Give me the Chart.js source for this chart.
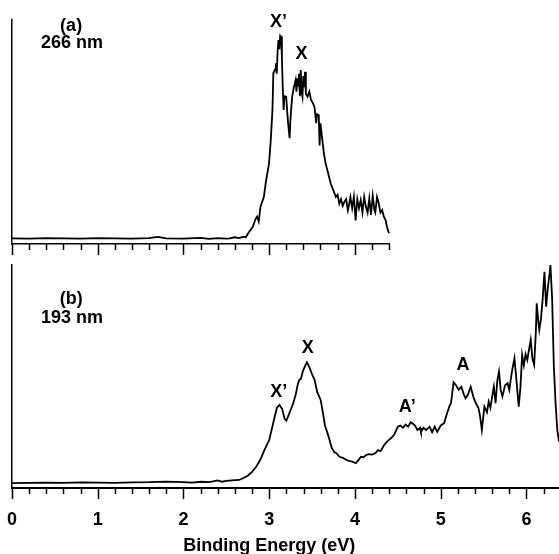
<!DOCTYPE html>
<html lang="en">
<head>
    <meta charset="UTF-8">
    <title>Photoelectron spectra</title>
    <script src="https://cdn.jsdelivr.net/npm/chart.js"></script>
    <style>
        body { margin: 0; background: #fff; }
        #wrap { position: relative; width: 559px; height: 554px; }
        #wrap canvas { position: absolute; left: 0; top: 0; }
    </style>
</head>
<body>
    <div id="wrap">
        <canvas id="chartB" width="559" height="554"></canvas>
        <canvas id="chartA" width="559" height="260"></canvas>
    </div>

    <script>
        // (a) 266 nm spectrum: binding energy (eV) and signal (arb. units)
        const energyA = [0.00, 0.20, 0.40, 0.60, 0.80, 1.00, 1.20, 1.40, 1.60, 1.70, 1.80, 2.00, 2.20, 2.30, 2.40, 2.50,
            2.54, 2.60, 2.65, 2.70, 2.73, 2.76, 2.81, 2.84, 2.86, 2.88, 2.90, 2.94, 2.96, 2.98, 3.00, 3.02, 3.04, 3.05,
            3.07, 3.08, 3.09, 3.10, 3.11, 3.12, 3.13, 3.14, 3.15, 3.16, 3.17, 3.18, 3.20, 3.22, 3.24, 3.25, 3.27, 3.29,
            3.31, 3.32, 3.33, 3.34, 3.35, 3.36, 3.37, 3.38, 3.39, 3.40, 3.41, 3.42, 3.43, 3.45, 3.47, 3.49, 3.51, 3.53,
            3.55, 3.56, 3.58, 3.59, 3.60, 3.62, 3.64, 3.66, 3.68, 3.70, 3.72, 3.75, 3.78, 3.80, 3.82, 3.84, 3.86, 3.88,
            3.90, 3.92, 3.93, 3.95, 3.97, 3.99, 4.01, 4.03, 4.05, 4.07, 4.09, 4.11, 4.13, 4.15, 4.17, 4.19, 4.21, 4.23,
            4.24, 4.26, 4.28, 4.30, 4.32, 4.34, 4.36, 4.38, 4.40];
        const signalA = [2.5, 2.4, 2.6, 2.5, 2.4, 2.6, 2.5, 2.4, 2.6, 3.2, 2.5, 2.4, 2.7, 2.3, 2.6, 2.4,
            2.5, 3.0, 2.6, 3.3, 3.0, 5.0, 7.7, 11, 12.2, 10, 16.7, 21.1, 27, 31.5, 36, 46.4, 60, 76.2,
            78, 80.7, 76, 86, 91, 87, 93, 92.6, 83.6, 70, 59.8, 66, 65.8, 55, 47.2, 56, 65.8, 70,
            73.2, 68, 74, 70.2, 76, 66, 77.7, 68, 65.8, 75, 70, 76.9, 67, 65.8, 68, 64.3, 63, 61.3,
            53.9, 58, 57.6, 44, 53.9, 47, 40.5, 36, 33, 30, 27, 24, 21, 22, 18, 20, 17, 18.9,
            20, 15, 16.7, 21, 16, 21.1, 10.5, 20, 16, 19.6, 14, 21, 16.7, 14, 20.4, 13, 21.5, 15,
            14, 21, 18.2, 14, 15.2, 12.2, 10.7, 7, 4.8];

        // (b) 193 nm spectrum
        const energyB = [0.00, 0.20, 0.40, 0.60, 0.80, 1.00, 1.20, 1.40, 1.60, 1.80, 2.00, 2.10, 2.20, 2.30, 2.40, 2.45,
            2.50, 2.60, 2.65, 2.70, 2.75, 2.80, 2.85, 2.90, 2.95, 3.00, 3.04, 3.07, 3.09, 3.12, 3.15, 3.18, 3.20, 3.23,
            3.25, 3.28, 3.31, 3.33, 3.35, 3.37, 3.39, 3.41, 3.44, 3.47, 3.50, 3.53, 3.56, 3.60, 3.63, 3.65, 3.68, 3.70,
            3.73, 3.76, 3.78, 3.82, 3.86, 3.90, 3.94, 3.97, 4.01, 4.04, 4.07, 4.10, 4.13, 4.16, 4.20, 4.24, 4.27, 4.30,
            4.34, 4.38, 4.42, 4.46, 4.50, 4.53, 4.56, 4.59, 4.62, 4.65, 4.67, 4.70, 4.73, 4.76, 4.77, 4.80, 4.83, 4.87,
            4.90, 4.93, 4.96, 5.00, 5.04, 5.07, 5.10, 5.12, 5.15, 5.18, 5.21, 5.24, 5.27, 5.29, 5.32, 5.35, 5.38, 5.41,
            5.44, 5.46, 5.48, 5.51, 5.54, 5.56, 5.58, 5.60, 5.62, 5.64, 5.66, 5.68, 5.70, 5.72, 5.75, 5.78, 5.80, 5.83,
            5.86, 5.88, 5.91, 5.93, 5.95, 5.97, 5.99, 6.01, 6.03, 6.05, 6.07, 6.09, 6.11, 6.12, 6.14, 6.15, 6.17, 6.19,
            6.21, 6.23, 6.25, 6.27, 6.28, 6.30, 6.32, 6.34, 6.36, 6.38];
        const signalB = [2.2, 2.3, 2.4, 2.3, 2.5, 2.4, 2.3, 2.5, 2.6, 2.9, 2.6, 2.4, 2.8, 2.6, 3.4, 2.8,
            3.2, 3.5, 3.6, 4.5, 5.5, 7.2, 9.6, 13, 17.5, 21.5, 28, 33, 36, 37.2, 35.5, 31, 30.2, 33,
            35, 38, 42, 46, 48.4, 49, 52, 54, 56.4, 54, 51, 48.4, 43, 39.5, 33, 28, 24.6, 22,
            18, 16, 15.7, 14, 13.5, 12.6, 12, 11.8, 11.1, 12.5, 14, 13.8, 14.8, 15.2, 15, 15.7, 17, 16.5,
            19.3, 21, 22.3, 24, 27.5, 28, 27, 28.5, 27.5, 29.5, 29, 28, 26, 27, 25.2, 27, 26, 27.5,
            25, 27.5, 25.2, 28, 29.1, 33, 36.5, 38, 47.4, 46, 44, 45.4, 42, 40.2, 42, 45.4, 41, 38,
            36, 32, 26, 36.5, 34, 38.7, 36, 41, 45.4, 38, 48, 52.2, 44, 41, 46, 47, 44, 52,
            58.2, 50, 36.5, 45, 59.6, 55, 60, 57.4, 62, 66.4, 58, 55.2, 70, 82.8, 74, 70.9, 76, 85,
            97, 81.3, 90, 96, 100, 85, 54.4, 38, 26, 20.8];

        // x-axis tick labels of the lower panel
        const tickValues = [0, 1, 2, 3, 4, 5, 6];

        // peak assignments and panel captions (text, energy, signal)
        const notesA = [
            { text: '(a)', x: 0.69, y: 97.5 },
            { text: '266 nm', x: 0.70, y: 89.5 },
            { text: 'X\u2019', x: 3.11, y: 99.1 },
            { text: 'X', x: 3.38, y: 84.8 }
        ];
        const notesB = [
            { text: '(b)', x: 0.69, y: 84.8 },
            { text: '193 nm', x: 0.70, y: 76 },
            { text: 'X\u2019', x: 3.11, y: 43 },
            { text: 'X', x: 3.45, y: 62.6 },
            { text: 'A\u2019', x: 4.61, y: 36.5 },
            { text: 'A', x: 5.26, y: 55.2 }
        ];

        const FONT = '"Liberation Sans", Arial, Helvetica, sans-serif';

        // tick marks every 0.2 eV, longer ones on whole eV
        const axisTicks = {
            id: 'axisTicks',
            afterDraw(chart, args, opts) {
                const xs = chart.scales.x;
                const ctx = chart.ctx;
                const n = Math.floor(xs.max / opts.step + 1e-6);
                ctx.save();
                ctx.strokeStyle = '#000';
                ctx.lineWidth = opts.width;
                for (let i = 0; i <= n; i++) {
                    const px = Math.round(xs.getPixelForValue(i * opts.step)) + 0.5;
                    const len = i % opts.every === 0 ? opts.majorLen : opts.minorLen;
                    ctx.beginPath();
                    ctx.moveTo(px, xs.top);
                    ctx.lineTo(px, xs.top + len);
                    ctx.stroke();
                }
                ctx.restore();
            }
        };

        // text notes placed by data values, plus optional axis title
        const notes = {
            id: 'notes',
            afterDraw(chart, args, opts) {
                const { ctx, scales: { x, y } } = chart;
                ctx.save();
                ctx.fillStyle = '#000';
                ctx.font = 'bold 18px ' + FONT;
                ctx.textAlign = 'center';
                ctx.textBaseline = 'middle';
                opts.items.forEach(it => {
                    ctx.fillText(it.text, x.getPixelForValue(it.x), y.getPixelForValue(it.y));
                });
                if (opts.title) {
                    const first = x.getPixelForValue(tickValues[0]);
                    const last = x.getPixelForValue(tickValues[tickValues.length - 1]);
                    ctx.fillText(opts.title, (first + last) / 2, x.bottom - 8);
                }
                ctx.restore();
            }
        };

        function spectrum(energy, signal) {
            return energy.map((e, i) => ({ x: e, y: signal[i] }));
        }

        function yAxis() {
            return {
                min: 0,
                max: 100,
                ticks: { display: false },
                grid: { display: false, drawTicks: false },
                border: { display: true, color: '#000', width: 1.5 },
                afterFit(scale) { scale.width = 12; }
            };
        }

        // upper panel (a)
        new Chart(document.getElementById('chartA'), {
            type: 'line',
            data: {
                datasets: [{
                    data: spectrum(energyA, signalA),
                    borderColor: '#000',
                    borderWidth: 1.8,
                    pointRadius: 0,
                    tension: 0,
                    clip: false
                }]
            },
            options: {
                responsive: false,
                animation: false,
                events: [],
                layout: { padding: { top: 20, right: 170, left: 0, bottom: 0 } },
                plugins: {
                    legend: { display: false },
                    tooltip: { enabled: false },
                    axisTicks: { step: 0.2, every: 5, minorLen: 6, majorLen: 11, width: 1.5 },
                    notes: { items: notesA }
                },
                scales: {
                    x: {
                        type: 'linear',
                        min: 0,
                        max: 4.4,
                        ticks: { display: false },
                        grid: { display: false, drawTicks: false },
                        border: { display: true, color: '#000', width: 1.5 },
                        afterFit(scale) {
                            scale.height = 16;
                            scale.paddingLeft = 0;
                            scale.paddingRight = 0;
                        }
                    },
                    y: yAxis()
                }
            },
            plugins: [axisTicks, notes]
        });

        // lower panel (b)
        new Chart(document.getElementById('chartB'), {
            type: 'line',
            data: {
                datasets: [{
                    data: spectrum(energyB, signalB),
                    borderColor: '#000',
                    borderWidth: 1.8,
                    pointRadius: 0,
                    tension: 0,
                    clip: false
                }]
            },
            options: {
                responsive: false,
                animation: false,
                events: [],
                layout: { padding: { top: 265, right: 0, left: 0, bottom: 0 } },
                plugins: {
                    legend: { display: false },
                    tooltip: { enabled: false },
                    axisTicks: { step: 0.2, every: 5, minorLen: 6, majorLen: 11, width: 1.5 },
                    notes: { items: notesB, title: 'Binding Energy (eV)' }
                },
                scales: {
                    x: {
                        type: 'linear',
                        min: 0,
                        max: 6.38,
                        afterBuildTicks(scale) {
                            scale.ticks = tickValues.map(v => ({ value: v }));
                        },
                        ticks: {
                            color: '#000',
                            padding: 21,
                            maxRotation: 0,
                            font: { family: FONT, size: 18, weight: 'bold' }
                        },
                        grid: { display: false, drawTicks: false },
                        border: { display: true, color: '#000', width: 2 },
                        afterFit(scale) {
                            scale.height = 66;
                            scale.paddingLeft = 0;
                            scale.paddingRight = 0;
                        }
                    },
                    y: yAxis()
                }
            },
            plugins: [axisTicks, notes]
        });
    </script>
</body>
</html>
